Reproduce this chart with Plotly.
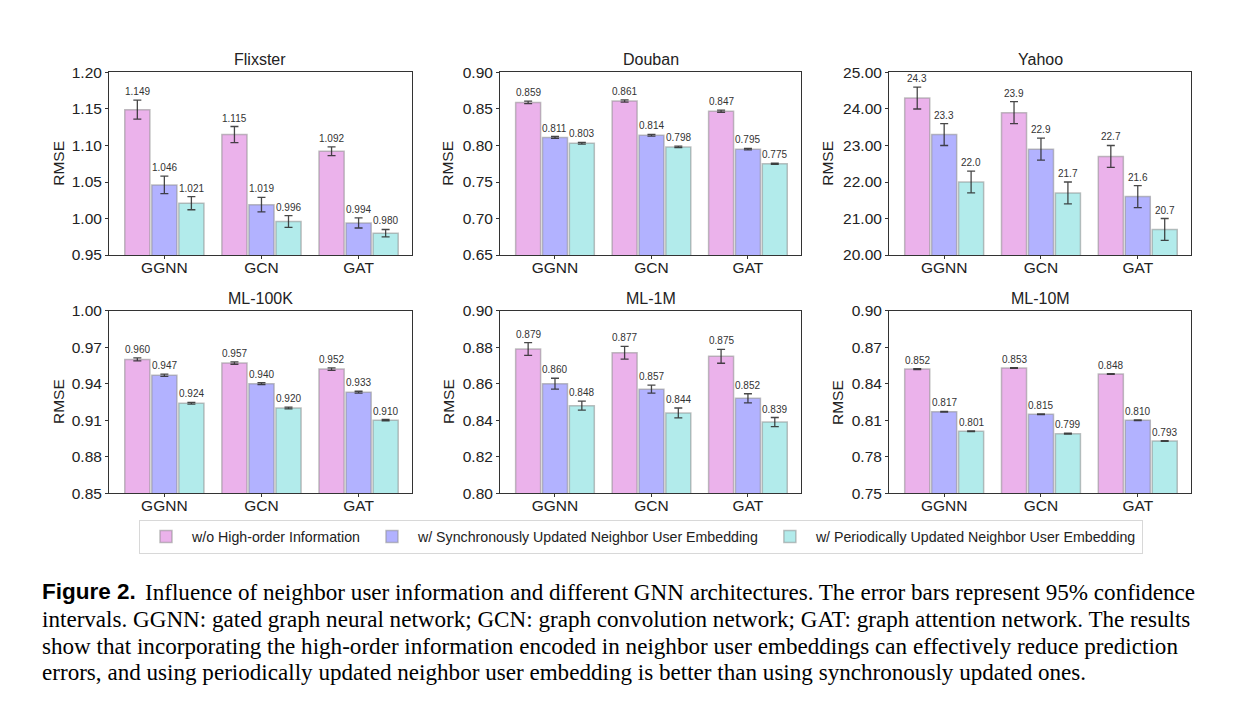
import plotly.graph_objects as go

# ---------------- data ----------------
models = ["GGNN", "GCN", "GAT"]
series_names = [
    "w/o High-order Information",
    "w/ Synchronously Updated Neighbor User Embedding",
    "w/ Periodically Updated Neighbor User Embedding",
]
datasets = ["Flixster", "Douban", "Yahoo", "ML-100K", "ML-1M", "ML-10M"]

# values[dataset] = [series0 per model, series1 per model, series2 per model]
flixster_vals = [[1.149, 1.115, 1.092], [1.046, 1.019, 0.994], [1.021, 0.996, 0.980]]
flixster_err = [[0.013, 0.011, 0.006], [0.012, 0.010, 0.007], [0.009, 0.008, 0.005]]

douban_vals = [[0.859, 0.861, 0.847], [0.811, 0.814, 0.795], [0.803, 0.798, 0.775]]
douban_err = [[0.0018, 0.0015, 0.0015], [0.0013, 0.0012, 0.0010], [0.0012, 0.0010, 0.0008]]

yahoo_vals = [[24.3, 23.9, 22.7], [23.3, 22.9, 21.6], [22.0, 21.7, 20.7]]
yahoo_err = [[0.3, 0.3, 0.3], [0.3, 0.3, 0.3], [0.3, 0.3, 0.3]]

ml100k_vals = [[0.960, 0.957, 0.952], [0.947, 0.940, 0.933], [0.924, 0.920, 0.910]]
ml100k_err = [[0.0012, 0.0010, 0.0010], [0.0009, 0.0008, 0.0008], [0.0007, 0.0007, 0.0006]]

ml1m_vals = [[0.879, 0.877, 0.875], [0.860, 0.857, 0.852], [0.848, 0.844, 0.839]]
ml1m_err = [[0.0035, 0.0035, 0.0038], [0.0030, 0.0022, 0.0025], [0.0025, 0.0027, 0.0025]]

ml10m_vals = [[0.852, 0.853, 0.848], [0.817, 0.815, 0.810], [0.801, 0.799, 0.793]]
ml10m_err = [[0.0003, 0.0003, 0.0003], [0.0003, 0.0003, 0.0003], [0.0003, 0.0003, 0.0003]]

all_vals = [flixster_vals, douban_vals, yahoo_vals, ml100k_vals, ml1m_vals, ml10m_vals]
all_err = [flixster_err, douban_err, yahoo_err, ml100k_err, ml1m_err, ml10m_err]
label_fmt = [".3f", ".3f", ".1f", ".3f", ".3f", ".3f"]

y_ranges = [(0.95, 1.20), (0.65, 0.90), (20.0, 25.0), (0.85, 1.00), (0.80, 0.90), (0.75, 0.90)]
y_ticks = [
    [0.95, 1.00, 1.05, 1.10, 1.15, 1.20],
    [0.65, 0.70, 0.75, 0.80, 0.85, 0.90],
    [20.0, 21.0, 22.0, 23.0, 24.0, 25.0],
    [0.85, 0.88, 0.91, 0.94, 0.97, 1.00],
    [0.80, 0.82, 0.84, 0.86, 0.88, 0.90],
    [0.75, 0.78, 0.81, 0.84, 0.87, 0.90],
]

caption_lines = [
    "Influence of neighbor user information and different GNN architectures. The error bars represent 95% confidence",
    "intervals. GGNN: gated graph neural network; GCN: graph convolution network; GAT: graph attention network. The results",
    "show that incorporating the high-order information encoded in neighbor user embeddings can effectively reduce prediction",
    "errors, and using periodically updated neighbor user embedding is better than using synchronously updated ones.",
]

# ---------------- style ----------------
W, H = 1239, 719
colors = ["rgb(235,178,235)", "rgb(178,178,255)", "rgb(178,235,235)"]
FONT = "Liberation Sans, Arial, sans-serif"

def px(x):
    return x / W

def py(y):
    return 1 - y / H

col_px = [(109, 412), (500, 801), (889, 1191)]
row_px = [(65, 252), (309, 496)]
rmse_gap = [50, 52, 61, 50, 51, 51]

fig = go.Figure()
annotations = []

for d, name in enumerate(datasets):
    r, c = divmod(d, 3)
    ax = "" if d == 0 else str(d + 1)
    xa, ya = "x" + ax, "y" + ax
    for s in range(3):
        fig.add_trace(go.Bar(
            x=models, y=all_vals[d][s],
            name=series_names[s], legendgroup=series_names[s],
            showlegend=(d == 0),
            marker=dict(color=colors[s], line=dict(color="rgba(140,140,140,0.55)", width=1.5)),
            error_y=dict(type="data", array=all_err[d][s], color="rgba(40,40,40,0.85)",
                         thickness=1.3, width=4),
            xaxis=xa, yaxis=ya,
        ))
    x0, x1 = col_px[c]
    y0, y1 = row_px[r]
    lo, hi = y_ranges[d]
    fmt = ".2f"
    fig.layout["xaxis" + ax] = dict(
        domain=[px(x0), px(x1)], anchor=ya, range=[-0.57, 2.55],
        showline=True, mirror=True, linecolor="#333", linewidth=1,
        ticks="outside", ticklen=3, tickcolor="#333", ticklabelstandoff=-5,
        tickfont=dict(size=15.5, color="#222", family=FONT), showgrid=False,
    )
    fig.layout["yaxis" + ax] = dict(
        domain=[py(y1), py(y0)], anchor=xa, range=[lo, hi],
        tickvals=y_ticks[d], ticktext=[format(t, fmt) for t in y_ticks[d]],
        showline=True, mirror=True, linecolor="#333", linewidth=1,
        ticks="outside", ticklen=3, tickcolor="#333",
        tickfont=dict(size=15.5, color="#222", family=FONT), showgrid=False, zeroline=False,
    )
    # subplot title
    annotations.append(dict(
        text=name, x=(px(x0) + px(x1)) / 2, y=py(y0 - 13), xref="paper", yref="paper",
        xanchor="center", yanchor="middle", showarrow=False,
        font=dict(size=16, color="#222", family=FONT),
    ))
    # y axis title
    annotations.append(dict(
        text="RMSE", x=px(x0 - rmse_gap[d]), y=(py(y0) + py(y1)) / 2, xref="paper", yref="paper",
        xanchor="center", yanchor="middle", textangle=-90, showarrow=False,
        font=dict(size=15.5, color="#222", family=FONT),
    ))
    # value labels
    offsets = [-0.278, 0.0, 0.278]
    for s in range(3):
        for m in range(3):
            v = all_vals[d][s][m]
            e = all_err[d][s][m]
            annotations.append(dict(
                text=format(v, label_fmt[d]), x=m + offsets[s], y=v + e,
                xref=xa, yref=ya, xanchor="center", yanchor="bottom", yshift=1,
                showarrow=False, font=dict(size=10, color="#333", family=FONT),
            ))

# caption
caption_y = [597, 624.5, 652, 679.5]
annotations.append(dict(
    text="<b>Figure 2.</b>", x=px(40), y=py(caption_y[0]), xref="paper", yref="paper",
    xanchor="left", yanchor="middle", showarrow=False,
    font=dict(size=22.5, color="#000", family="Liberation Sans, Arial"),
))
for i, line in enumerate(caption_lines):
    xstart = 143 if i == 0 else 40
    annotations.append(dict(
        text=line, x=px(xstart), y=py(caption_y[i]), xref="paper", yref="paper",
        xanchor="left", yanchor="middle", showarrow=False,
        font=dict(size=23.1, color="#000", family="Liberation Serif, Times New Roman, serif"),
    ))

fig.update_layout(
    width=W, height=H, autosize=False,
    margin=dict(l=0, r=0, t=0, b=0),
    paper_bgcolor="white", plot_bgcolor="white",
    barmode="group", bargap=0.165, bargroupgap=0.07,
    annotations=annotations,
    legend=dict(
        orientation="h", x=px(641), y=py(540.5), xanchor="center", yanchor="middle",
        bordercolor="#d8d8d8", borderwidth=1, bgcolor="white",
        font=dict(size=14.2, color="#222", family=FONT),
        itemwidth=42,
        traceorder="normal",
    ),
    font=dict(family=FONT),
)

fig.write_html("out.html")
